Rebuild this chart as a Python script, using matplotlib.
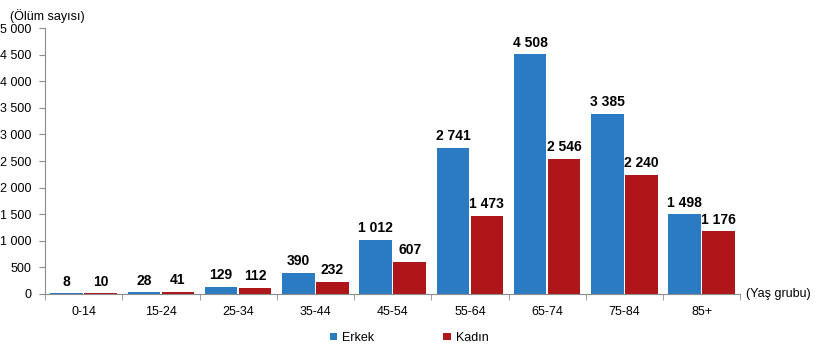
import matplotlib.pyplot as plt
import numpy as np

plt.rcParams['font.family'] = ['Liberation Sans', 'DejaVu Sans']

groups = ['0-14', '15-24', '25-34', '35-44', '45-54', '55-64', '65-74', '75-84', '85+']
erkek = [8, 28, 129, 390, 1012, 2741, 4508, 3385, 1498]
kadin = [10, 41, 112, 232, 607, 1473, 2546, 2240, 1176]
yticks = [0, 500, 1000, 1500, 2000, 2500, 3000, 3500, 4000, 4500, 5000]

blue = '#2B7BC2'
red = '#AF1619'
grey = '#8C8C8C'


def fmt(v):
    return f'{v:,}'.replace(',', ' ')


fig = plt.figure(figsize=(8.18, 3.52), dpi=100)
ax = fig.add_axes([0.055, 0.165, 0.85, 0.755])

x = np.arange(len(groups))
w = 0.42
b1 = ax.bar(x - w / 2 - 0.01, erkek, w, color=blue, label='Erkek')
b2 = ax.bar(x + w / 2 + 0.01, kadin, w, color=red, label='Kadın')

for bars, vals in ((b1, erkek), (b2, kadin)):
    for r, v in zip(bars, vals):
        ax.text(r.get_x() + r.get_width() / 2, v + 90, fmt(v), ha='center', va='bottom',
                fontsize=10, fontweight='bold')

ax.set_xlim(-0.5, len(groups) - 0.5)
ax.set_ylim(0, 5000)
ax.set_yticks(yticks)
ax.set_yticklabels([fmt(t) for t in yticks], fontsize=9)
ax.set_xticks(x)
ax.set_xticklabels(groups, fontsize=9)
ax.tick_params(axis='x', length=0, pad=9)
ax.set_xticks(np.arange(len(groups) + 1) - 0.5, minor=True)
ax.tick_params(axis='x', which='minor', length=4, color=grey)
ax.tick_params(axis='y', length=4, color=grey, pad=6)

for s in ['top', 'right']:
    ax.spines[s].set_visible(False)
for s in ['left', 'bottom']:
    ax.spines[s].set_color(grey)

fig.text(0.012, 0.955, '(Ölüm sayısı)', fontsize=9, ha='left', va='center')
fig.text(0.912, 0.165, '(Yaş grubu)', fontsize=9, ha='left', va='center')

fig.legend(handles=[b1, b2], loc='center', bbox_to_anchor=(0.5, 0.04), ncol=2,
           frameon=False, fontsize=9, handlelength=0.6, handleheight=0.6,
           columnspacing=5.5, handletextpad=0.4)

fig.savefig('out.png', dpi=100)
